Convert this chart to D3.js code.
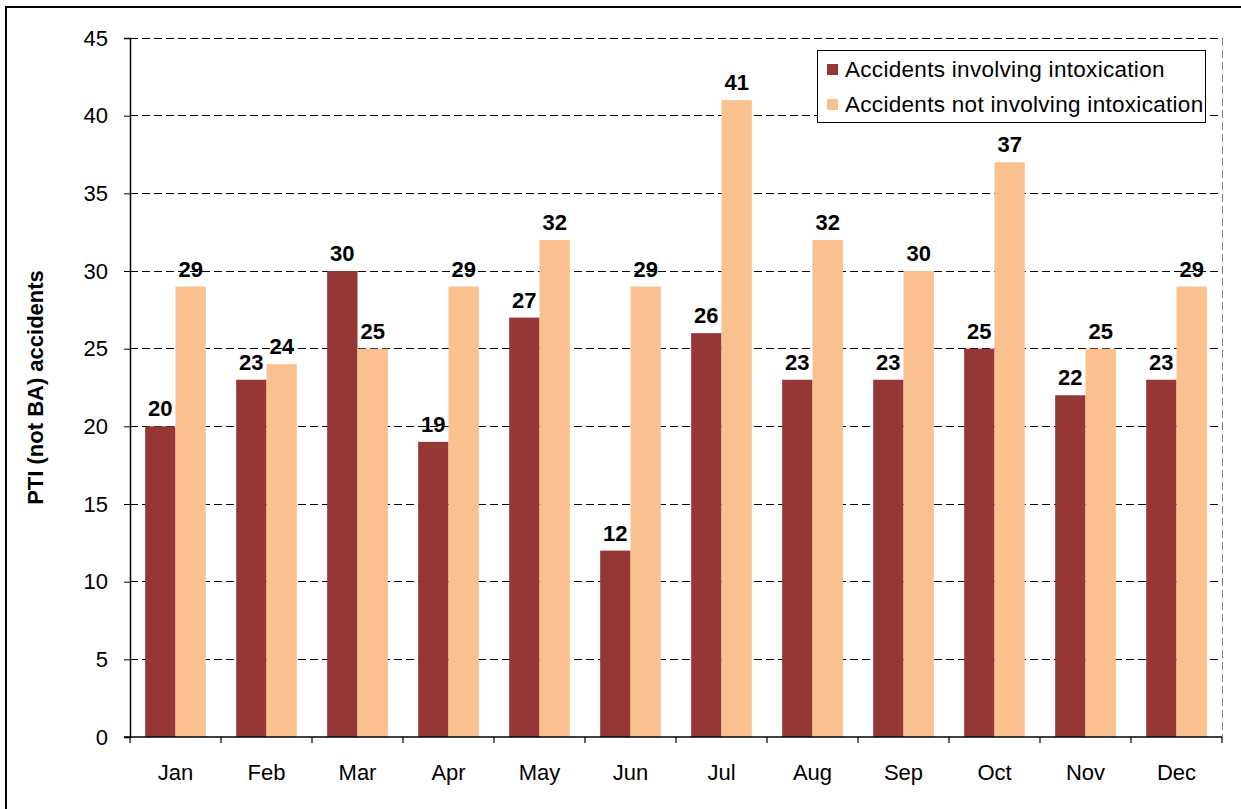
<!DOCTYPE html>
<html>
<head>
<meta charset="utf-8">
<script src="https://cdn.jsdelivr.net/npm/d3@7"></script>
<style>
  html, body { margin: 0; padding: 0; background: #fff; }
  svg { display: block; font-family: "Liberation Sans", Arial, sans-serif; }
</style>
</head>
<body>
<svg id="chart" width="1241" height="809"></svg>
<script>
const months = ["Jan","Feb","Mar","Apr","May","Jun","Jul","Aug","Sep","Oct","Nov","Dec"];
const intoxicated = [20,23,30,19,27,12,26,23,23,25,22,23];
const notIntoxicated = [29,24,25,29,32,29,41,32,30,37,25,29];
const seriesNames = ["Accidents involving intoxication", "Accidents not involving intoxication"];
const seriesColors = ["#953735", "#FAC090"];
const yTicks = [0,5,10,15,20,25,30,35,40,45];
const yTitle = "PTI (not BA) accidents";

const svg = d3.select("#chart");
const W = 1241, H = 809;
const m = {left: 130, right: 1222, top: 38, bottom: 737};

// outer border
svg.append("rect").attr("x", 6).attr("y", 7).attr("width", W + 20).attr("height", H + 20)
  .attr("fill", "none").attr("stroke", "#000").attr("stroke-width", 2);

const x0 = d3.scaleBand().domain(months).range([m.left, m.right]).padding(0);
const x1 = d3.scaleBand().domain([0,1]).range([0, x0.bandwidth()]).paddingInner(0).paddingOuter(0.5);
const y = d3.scaleLinear().domain([0,45]).range([m.bottom, m.top]);

// gridlines
svg.append("g").selectAll("line").data(yTicks.filter(d => d > 0)).join("line")
  .attr("x1", m.left).attr("x2", m.right)
  .attr("y1", d => y(d)).attr("y2", d => y(d))
  .attr("stroke", "#000").attr("stroke-width", 1).attr("stroke-dasharray", "8,4")
  .attr("shape-rendering", "crispEdges");

// right plot border (dashed gray)
svg.append("line").attr("x1", m.right).attr("x2", m.right).attr("y1", m.top).attr("y2", m.bottom)
  .attr("stroke", "#808080").attr("stroke-width", 1).attr("stroke-dasharray", "8,4")
  .attr("shape-rendering", "crispEdges");

// bars
const data = months.map((mo, i) => ({m: mo, v: [intoxicated[i], notIntoxicated[i]]}));
const groups = svg.append("g").selectAll("g").data(data).join("g")
  .attr("transform", d => `translate(${x0(d.m)},0)`);
groups.selectAll("rect").data(d => d.v.map((v, k) => ({v, k}))).join("rect")
  .attr("x", d => x1(d.k)).attr("width", x1.bandwidth())
  .attr("y", d => y(d.v)).attr("height", d => y(0) - y(d.v))
  .attr("fill", d => seriesColors[d.k]);
groups.selectAll("text").data(d => d.v.map((v, k) => ({v, k}))).join("text")
  .attr("x", d => x1(d.k) + x1.bandwidth() / 2)
  .attr("y", d => y(d.v) - 10)
  .attr("text-anchor", "middle")
  .attr("font-size", 22).attr("font-weight", "bold").attr("fill", "#000")
  .text(d => d.v);

// y axis
const yAxis = d3.axisLeft(y).tickValues(yTicks).tickSize(6).tickPadding(16);
const gy = svg.append("g").attr("transform", `translate(${m.left},0)`).call(yAxis);
gy.select(".domain").attr("stroke", "#000").attr("stroke-width", 1.5);
gy.selectAll(".tick line").attr("stroke", "#000");
gy.selectAll(".tick text").attr("font-size", 22).attr("fill", "#000")
  .attr("font-family", "Liberation Sans, Arial, sans-serif");

// x axis
const xAxis = d3.axisBottom(x0).tickSize(0).tickPadding(27);
const gx = svg.append("g").attr("transform", `translate(0,${m.bottom})`).call(xAxis);
gx.select(".domain").remove();
gx.append("line").attr("x1", m.left - 6).attr("x2", m.right).attr("y1", 0).attr("y2", 0)
  .attr("stroke", "#000").attr("stroke-width", 1.5);
gx.selectAll(".tick text").attr("font-size", 22).attr("fill", "#000")
  .attr("font-family", "Liberation Sans, Arial, sans-serif");
gx.append("g").selectAll("line").data(d3.range(months.length + 1)).join("line")
  .attr("x1", i => m.left + i * x0.step()).attr("x2", i => m.left + i * x0.step())
  .attr("y1", 0).attr("y2", 6).attr("stroke", "#000").attr("stroke-width", 1.2);

// y title
svg.append("text")
  .attr("transform", `translate(43,${(m.top + m.bottom) / 2}) rotate(-90)`)
  .attr("text-anchor", "middle").attr("font-size", 22).attr("font-weight", "bold")
  .text(yTitle);

// legend
const lg = svg.append("g");
lg.append("rect").attr("x", 817.5).attr("y", 50.5).attr("width", 388).attr("height", 72)
  .attr("fill", "#fff").attr("stroke", "#000").attr("stroke-width", 1);
seriesNames.forEach((s, i) => {
  const yy = 77 + i * 35;
  lg.append("rect").attr("x", 827).attr("y", yy - 13).attr("width", 11).attr("height", 11)
    .attr("fill", seriesColors[i]);
  lg.append("text").attr("x", 845).attr("y", yy).attr("font-size", 22.5)
    .attr("letter-spacing", 0.3).attr("fill", "#000")
    .text(s);
});
</script>
</body>
</html>
